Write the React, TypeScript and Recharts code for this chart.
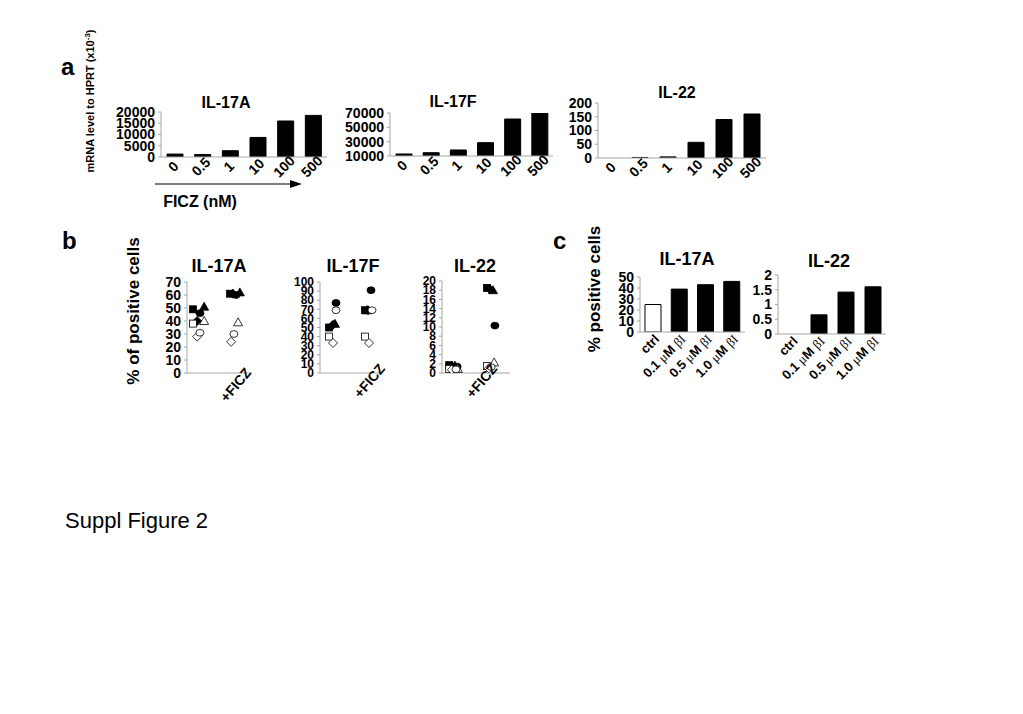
import React from 'react';
import { BarChart, Bar, XAxis, YAxis, Cell, ScatterChart, Scatter } from 'recharts';

const FONT = '"Liberation Sans", Arial, Helvetica, sans-serif';
const AXIS = '#a6a6a6';

// ---- panel a: mRNA level vs FICZ dose ----
const ficzDoses = ['0', '0.5', '1', '10', '100', '500'];
const il17aMrna = [1300, 1100, 2800, 8700, 16000, 18500];
const il17fMrna = [12800, 14600, 18400, 28600, 61600, 70000];
const il22Mrna = [0, 2, 4, 57, 140, 160];
const il17aMrnaTicks = [0, 5000, 10000, 15000, 20000];
const il17fMrnaTicks = [10000, 30000, 50000, 70000];
const il22MrnaTicks = [0, 50, 100, 150, 200];

// ---- panel b: % positive cells, ctrl vs +FICZ ----
const groupLabels = ['', '+FICZ'];
// f = filled, o = open marker
const markerKinds = ['fSquare', 'fDiamond', 'fTriangle', 'fCircle', 'oSquare', 'oDiamond', 'oTriangle', 'oCircle'];

// rows follow markerKinds, columns are [ctrl, +FICZ]; x = group + jitter as drawn
const il17aPctX = [[0.77, 1.83], [0.89, 1.91], [1.09, 2.11], [0.97, 2.0], [0.77, 2.0], [0.89, 1.86], [1.09, 2.06], [0.97, 1.94]];
const il17aPctY = [[49, 61], [40, 61], [51, 62], [46, 60], [38, null], [28, 24], [40, 39], [31, 30]];
const il17aPctTicks = [0, 10, 20, 30, 40, 50, 60, 70];

const il17fPctX = [[0.87, 1.95], [0.99, 2.04], [1.05, 2.01], [1.08, 2.13], [0.87, 1.95], [0.99, 2.07], [1.0, 2.0], [1.08, 2.16]];
const il17fPctY = [[50, 69], [53, 69], [54, 69], [77, 91], [40, 40], [33, 33], [null, null], [69, 69]];
const il17fPctTicks = [0, 10, 20, 30, 40, 50, 60, 70, 80, 90, 100];

const il22PctX = [[0.79, 1.79], [0.86, 1.87], [0.94, 1.95], [1.0, 2.0], [0.79, 1.79], [0.86, 1.84], [1.02, 1.98], [0.97, 1.9]];
const il22PctY = [[1.7, 18.5], [1.5, 18.2], [1.6, 18.0], [1.4, 10.3], [0.9, 1.5], [0.7, 1.0], [0.9, 2.3], [0.8, 1.3]];
const il22PctTicks = [0, 2, 4, 6, 8, 10, 12, 14, 16, 18, 20];

// ---- panel c: % positive cells vs inhibitor dose ----
const inhibitorDoses = ['ctrl', '0.1 μM βI', '0.5 μM βI', '1.0 μM βI'];
const il17aInhib = [25, 39, 43, 46];
const il22Inhib = [0, 0.65, 1.42, 1.6];
const il17aInhibTicks = [0, 10, 20, 30, 40, 50];
const il22InhibTicks = [0, 0.5, 1, 1.5, 2];

type Rect = { L: number; T: number; R: number; B: number };
const YW = 60, MT = 10, MR = 10, XH = 70;

const box = (r: Rect) => ({
  style: { position: 'absolute' as const, left: r.L - YW, top: r.T - MT },
  w: r.R - r.L + YW + MR,
  h: r.B - r.T + MT + XH,
});

const labelParts = (s: string) =>
  s.split(/(μ|βI)/).filter(Boolean).map((part, i) =>
    part === 'μ' || part === 'βI' ? (
      <tspan key={i} fontFamily='"Liberation Serif", "DejaVu Serif", serif' fontWeight="normal">{part}</tspan>
    ) : (
      <tspan key={i}>{part}</tspan>
    )
  );

const SlantTick = (p: any) => {
  const { x, y, text, offX = 0, offY = 0, rot = -45, anchor = 'end', size = 14 } = p;
  if (!text) return null;
  const ax = x + offX, ay = y + offY;
  return (
    <text x={ax} y={ay} transform={`rotate(${rot}, ${ax}, ${ay})`} textAnchor={anchor}
      fontSize={size} fontWeight="bold" fill="#000" fontFamily={FONT}>
      {labelParts(String(text))}
    </text>
  );
};

const yAxisProps = (size = 14) => ({
  width: YW,
  interval: 0 as const,
  allowDataOverflow: true,
  tickSize: 3,
  tickMargin: 3,
  axisLine: { stroke: AXIS },
  tickLine: { stroke: AXIS },
  tick: { fill: '#000', fontSize: size, fontWeight: 'bold', fontFamily: FONT },
});

const BarPanel = ({ rect, cats, vals, domain, ticks, tickOpts }: any) => {
  const data = cats.map((c: string, i: number) => ({ c, v: vals[i] }));
  const b = box(rect);
  return (
    <div style={b.style}>
      <BarChart width={b.w} height={b.h} data={data} margin={{ top: MT, right: MR, bottom: 0, left: 0 }}>
        <XAxis dataKey="c" height={XH} interval={0} tickSize={0} tickMargin={0} axisLine={{ stroke: AXIS }}
          tick={(p: any) => <SlantTick {...p} text={p.payload.value} {...tickOpts} />} />
        <YAxis {...yAxisProps()} domain={domain} ticks={ticks} />
        <Bar dataKey="v" barSize={16} isAnimationActive={false}>
          {data.map((d: any, i: number) => (
            <Cell key={i} fill={d.c === 'ctrl' ? '#fff' : '#000'} stroke="#000" strokeWidth={1} />
          ))}
        </Bar>
      </BarChart>
    </div>
  );
};

const marker = (kind: string) => (p: any) => {
  const { cx, cy } = p;
  const fill = kind[0] === 'f' ? '#000' : '#fff';
  const st = { fill, stroke: '#000', strokeWidth: 0.8 };
  switch (kind.slice(1)) {
    case 'Square':
      return <rect x={cx - 3.5} y={cy - 3.5} width={7} height={7} {...st} />;
    case 'Diamond':
      return <polygon points={`${cx},${cy - 4.5} ${cx + 4.5},${cy} ${cx},${cy + 4.5} ${cx - 4.5},${cy}`} {...st} />;
    case 'Triangle':
      return <polygon points={`${cx},${cy - 4.5} ${cx + 4.5},${cy + 3.5} ${cx - 4.5},${cy + 3.5}`} {...st} />;
    default:
      return <ellipse cx={cx} cy={cy} rx={4} ry={3.4} {...st} />;
  }
};

const ScatterPanel = ({ rect, xs, ys, domain, ticks, offX, offY, tickFont = 14 }: any) => {
  const b = box(rect);
  return (
    <div style={b.style}>
      <ScatterChart width={b.w} height={b.h} margin={{ top: MT, right: MR, bottom: 0, left: 0 }}>
        <XAxis type="number" dataKey="x" domain={[0.6, 2.4]} allowDataOverflow ticks={[1, 2]} interval={0}
          height={XH} tickSize={0} tickMargin={0} axisLine={{ stroke: AXIS }}
          tick={(p: any) => <SlantTick {...p} text={groupLabels[p.payload.value - 1]} offX={offX} offY={offY} rot={-50} />} />
        <YAxis type="number" dataKey="y" {...yAxisProps(tickFont)} domain={domain} ticks={ticks} />
        {markerKinds.map((k, i) => {
          const pts = ys[i]
            .map((y: number | null, j: number) => ({ x: xs[i][j], y }))
            .filter((d: any) => d.y !== null);
          return <Scatter key={k} data={pts} shape={marker(k)} isAnimationActive={false} />;
        })}
      </ScatterChart>
    </div>
  );
};

const aTick = { anchor: 'middle', offX: 2, offY: 13 };
const cTick = { anchor: 'end', offX: 7, offY: 8, size: 13 };

export default function App() {
  return (
    <div style={{ position: 'fixed', left: 0, top: 0, width: 1023, height: 714, background: '#fff', overflow: 'hidden', fontFamily: FONT }}>
      <BarPanel rect={{ L: 161, T: 112, R: 327, B: 157 }} cats={ficzDoses} vals={il17aMrna} domain={[0, 20000]} ticks={il17aMrnaTicks} tickOpts={aTick} />
      <BarPanel rect={{ L: 390, T: 113, R: 553, B: 156 }} cats={ficzDoses} vals={il17fMrna} domain={[10000, 70000]} ticks={il17fMrnaTicks} tickOpts={aTick} />
      <BarPanel rect={{ L: 598, T: 103, R: 766, B: 158 }} cats={ficzDoses} vals={il22Mrna} domain={[0, 200]} ticks={il22MrnaTicks} tickOpts={aTick} />

      <ScatterPanel rect={{ L: 187, T: 282, R: 250, B: 373 }} xs={il17aPctX} ys={il17aPctY} domain={[0, 70]} ticks={il17aPctTicks} offX={16} offY={0} />
      <ScatterPanel rect={{ L: 320, T: 282, R: 380, B: 373 }} xs={il17fPctX} ys={il17fPctY} domain={[0, 100]} ticks={il17fPctTicks} offX={19} offY={-4} tickFont={12} />
      <ScatterPanel rect={{ L: 442, T: 281, R: 510, B: 373 }} xs={il22PctX} ys={il22PctY} domain={[0, 20]} ticks={il22PctTicks} offX={3} offY={-4} tickFont={12} />

      <BarPanel rect={{ L: 640, T: 277, R: 745, B: 332 }} cats={inhibitorDoses} vals={il17aInhib} domain={[0, 50]} ticks={il17aInhibTicks} tickOpts={cTick} />
      <BarPanel rect={{ L: 778, T: 275, R: 886, B: 334 }} cats={inhibitorDoses} vals={il22Inhib} domain={[0, 2]} ticks={il22InhibTicks} tickOpts={cTick} />

      <svg width={1023} height={714} style={{ position: 'absolute', left: 0, top: 0, pointerEvents: 'none' }} fontFamily={FONT}>
        <text x={61} y={75} fontSize={24} fontWeight="bold">a</text>
        <text x={62} y={249} fontSize={24} fontWeight="bold">b</text>
        <text x={553} y={249} fontSize={24} fontWeight="bold">c</text>

        <text transform="translate(94,101) rotate(-90)" textAnchor="middle" fontSize={11} fontWeight="bold">
          mRNA level to HPRT (x10<tspan dy={-4} fontSize={8}>-3</tspan><tspan dy={4}>)</tspan>
        </text>
        <text x={226} y={108} textAnchor="middle" fontSize={16} fontWeight="bold">IL-17A</text>
        <text x={453} y={107} textAnchor="middle" fontSize={16} fontWeight="bold">IL-17F</text>
        <text x={677} y={98} textAnchor="middle" fontSize={16} fontWeight="bold">IL-22</text>

        <line x1={155} y1={184} x2={292} y2={184} stroke="#000" strokeWidth={1.2} />
        <polygon points="290,180 302,184 290,188" fill="#000" />
        <text x={200} y={207} textAnchor="middle" fontSize={16} fontWeight="bold">FICZ (nM)</text>

        <text transform="translate(139,311) rotate(-90)" textAnchor="middle" fontSize={17} fontWeight="bold">% of positive cells</text>
        <text x={219} y={272} textAnchor="middle" fontSize={18} fontWeight="bold">IL-17A</text>
        <text x={353} y={272} textAnchor="middle" fontSize={18} fontWeight="bold">IL-17F</text>
        <text x={475} y={272} textAnchor="middle" fontSize={18} fontWeight="bold">IL-22</text>

        <text transform="translate(600,289) rotate(-90)" textAnchor="middle" fontSize={17} fontWeight="bold">% positive cells</text>
        <text x={687} y={265} textAnchor="middle" fontSize={18} fontWeight="bold">IL-17A</text>
        <text x={829} y={267} textAnchor="middle" fontSize={18} fontWeight="bold">IL-22</text>

        <text x={65} y={528} fontSize={22}>Suppl Figure 2</text>
      </svg>
    </div>
  );
}
